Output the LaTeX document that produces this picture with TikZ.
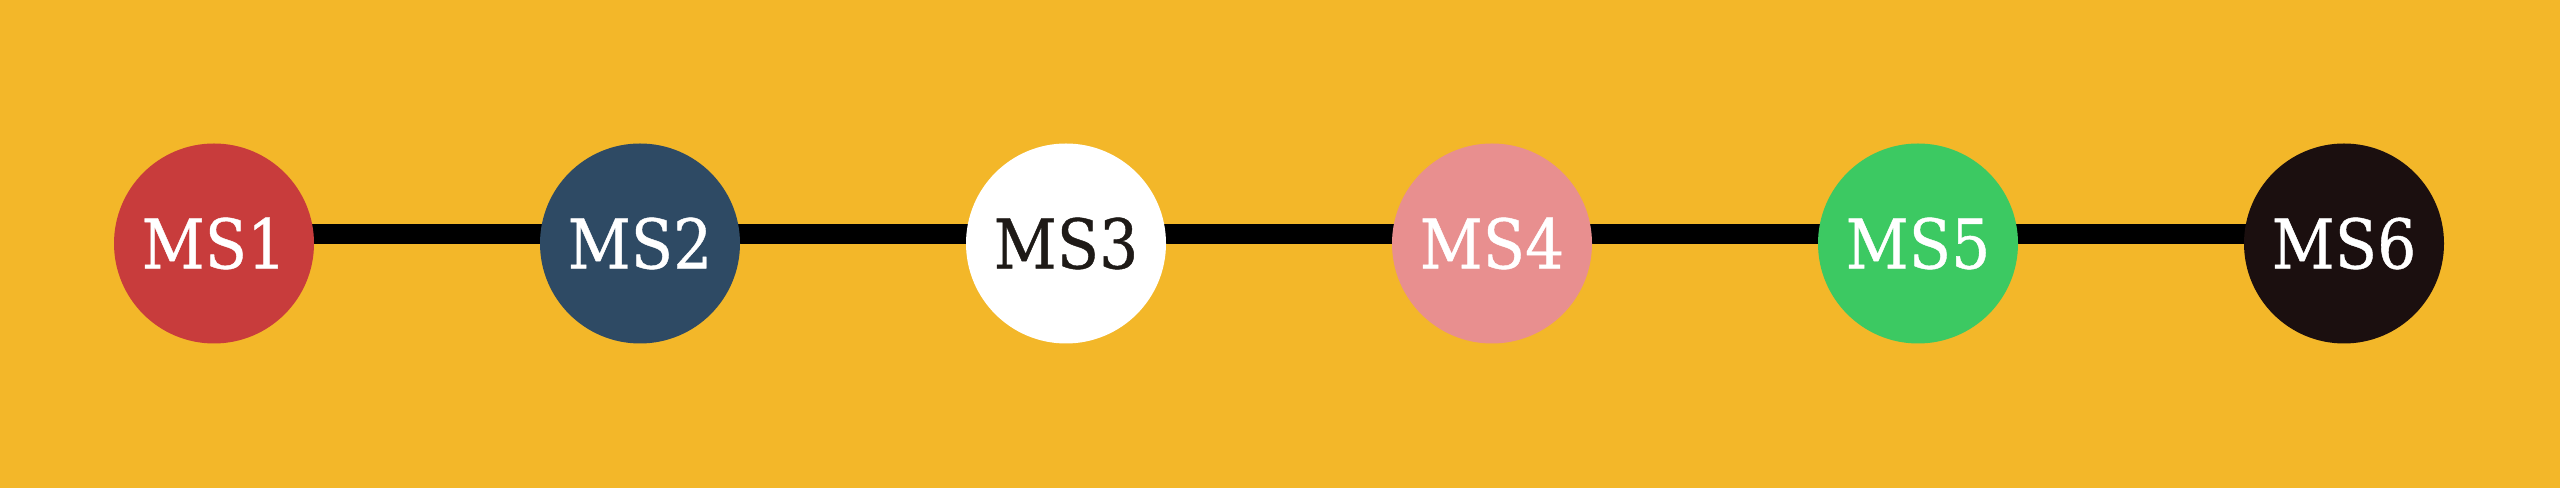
\documentclass[tikz,border=0pt]{standalone}
\usepackage{fontspec}
\setmainfont{DejaVu Serif}[FakeStretch=0.9,FakeBold=0.6]
\usetikzlibrary{backgrounds}

\definecolor{bgyellow}{HTML}{F3B729}
\definecolor{msred}{HTML}{C83C3C}
\definecolor{msnavy}{HTML}{2E4A64}
\definecolor{mspink}{HTML}{E88F8F}
\definecolor{msgreen}{HTML}{3CC962}
\definecolor{msdark}{HTML}{1B0F0F}
\definecolor{mstext}{HTML}{1E1A17}

\tikzset{
  milestone/.style={circle,minimum size=2cm,inner sep=0pt,text=white,
    font=\fontsize{19.5}{19.5}\selectfont}
}

\begin{document}
\begin{tikzpicture}
  \useasboundingbox (0,0) rectangle (25.6,4.88);

  % Milestones
  \node[milestone,fill=msred]   (ms1) at (2.14,2.445)  {MS1};
  \node[milestone,fill=msnavy]  (ms2) at (6.40,2.445)  {MS2};
  \node[milestone,fill=white,text=mstext] (ms3) at (10.66,2.445) {MS3};
  \node[milestone,fill=mspink]  (ms4) at (14.92,2.445) {MS4};
  \node[milestone,fill=msgreen] (ms5) at (19.18,2.445) {MS5};
  \node[milestone,fill=msdark]  (ms6) at (23.44,2.445) {MS6};

  \begin{pgfonlayer}{background}
    \fill[bgyellow] (0,0) rectangle (25.6,4.88);
    % Timeline, slightly above the centres
    \draw[line width=2mm] ([yshift=0.95mm]ms1.center) -- ([yshift=0.95mm]ms2.center)
      -- ([yshift=0.95mm]ms3.center) -- ([yshift=0.95mm]ms4.center)
      -- ([yshift=0.95mm]ms5.center) -- ([yshift=0.95mm]ms6.center);
  \end{pgfonlayer}
\end{tikzpicture}
\end{document}
